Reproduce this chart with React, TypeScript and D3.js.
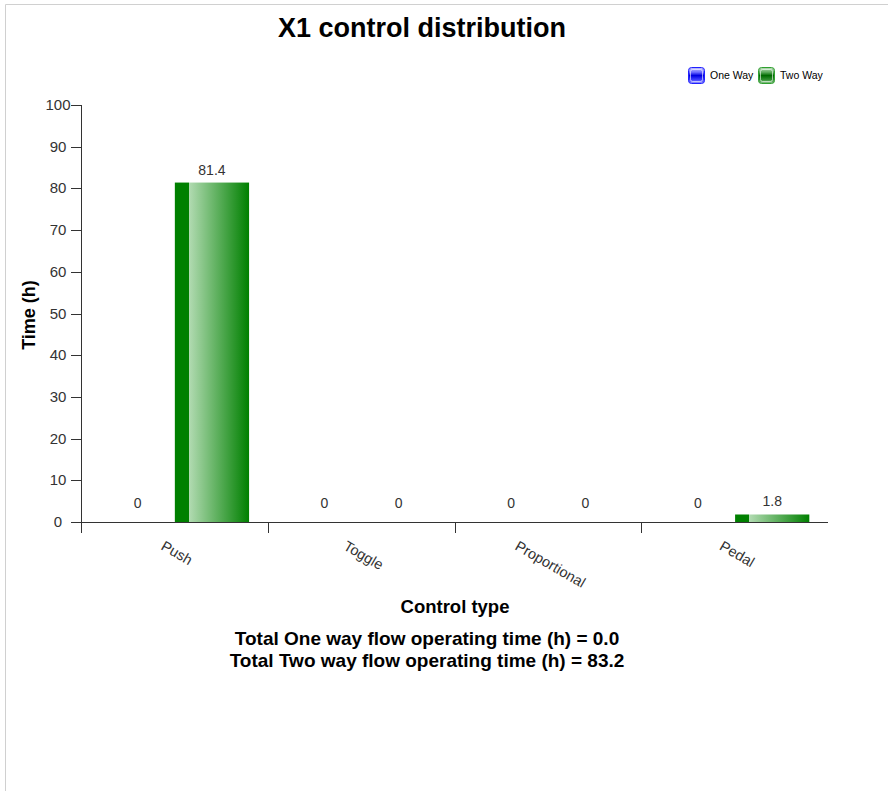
import React from "react";
import * as d3 from "d3";

const categories = ["Push", "Toggle", "Proportional", "Pedal"];
const seriesNames = ["One Way", "Two Way"];
const oneWay = [0, 0, 0, 0];
const twoWay = [81.4, 0, 0, 1.8];
const yTicks = [0, 10, 20, 30, 40, 50, 60, 70, 80, 90, 100];
const totalsText = [
  "Total One way flow operating time (h) = 0.0",
  "Total Two way flow operating time (h) = 83.2",
];

const W = 888;
const H = 791;
const left = 81;
const right = 828;
const top = 105;
const bottom = 522;
const font = "Arial, 'Liberation Sans', sans-serif";
const catFontSize = 14.5;

function measure(text: string, size: number): number {
  try {
    const c = document.createElement("canvas");
    const ctx = c.getContext("2d");
    if (ctx) {
      ctx.font = `${size}px "Liberation Sans", Arial, sans-serif`;
      return ctx.measureText(text).width;
    }
  } catch (e) {}
  return text.length * size * 0.55;
}

export default function App() {
  const x0 = d3.scaleBand<string>().domain(categories).range([left, right]).padding(0);
  const bw = x0.bandwidth();
  const x1 = d3
    .scaleBand<string>()
    .domain(seriesNames)
    .range([bw * 0.105, bw * 0.9])
    .padding(0);
  const y = d3.scaleLinear().domain([0, 100]).range([bottom, top]);
  const seriesVals = [oneWay, twoWay];
  const barIds = ["gradOne", "gradTwo"];
  const ang = 30;
  const cosA = Math.cos((ang * Math.PI) / 180);

  return (
    <svg width={W} height={H} style={{ position: "absolute", left: 0, top: 0 }}>
      <defs>
        <linearGradient id="gradTwo" x1="0" x2="1" y1="0" y2="0">
          <stop offset="0" stopColor="#008000" />
          <stop offset="0.19" stopColor="#008000" />
          <stop offset="0.19" stopColor="#b2dbb2" />
          <stop offset="1" stopColor="#008000" />
        </linearGradient>
        <linearGradient id="gradOne" x1="0" x2="1" y1="0" y2="0">
          <stop offset="0" stopColor="#0000ff" />
          <stop offset="0.19" stopColor="#0000ff" />
          <stop offset="0.19" stopColor="#b2b2ff" />
          <stop offset="1" stopColor="#0000ff" />
        </linearGradient>
        <linearGradient id="legBlue" x1="0" x2="0" y1="0" y2="1">
          <stop offset="0" stopColor="#c8c8ff" />
          <stop offset="0.3" stopColor="#6a6aff" />
          <stop offset="0.5" stopColor="#0000e0" />
          <stop offset="0.75" stopColor="#3b3bff" />
          <stop offset="1" stopColor="#9a9aff" />
        </linearGradient>
        <linearGradient id="legGreen" x1="0" x2="0" y1="0" y2="1">
          <stop offset="0" stopColor="#c2e2c2" />
          <stop offset="0.3" stopColor="#5aa95a" />
          <stop offset="0.5" stopColor="#006a00" />
          <stop offset="0.75" stopColor="#2f8f2f" />
          <stop offset="1" stopColor="#90c890" />
        </linearGradient>
      </defs>
      <rect x={0} y={0} width={W} height={H} fill="#fff" />
      <line x1={5.5} y1={4.5} x2={W} y2={4.5} stroke="#d0d0d0" />
      <line x1={5.5} y1={4.5} x2={5.5} y2={H} stroke="#d0d0d0" />

      <text x={422} y={37} textAnchor="middle" fontFamily={font} fontWeight="bold" fontSize={27} fill="#000">
        X1 control distribution
      </text>

      {/* legend */}
      <g fontFamily={font} fontSize={10.5} fill="#000">
        <rect x={688.5} y={67.5} width={16} height={16} rx={3} fill="url(#legBlue)" stroke="#2020ff" />
        <rect x={690.5} y={69.5} width={12} height={12} rx={2} fill="none" stroke="#ffffff" strokeOpacity={0.6} />
        <text x={710} y={79}>One Way</text>
        <rect x={758.5} y={67.5} width={16} height={16} rx={3} fill="url(#legGreen)" stroke="#30a030" />
        <rect x={760.5} y={69.5} width={12} height={12} rx={2} fill="none" stroke="#ffffff" strokeOpacity={0.6} />
        <text x={780} y={79}>Two Way</text>
      </g>

      {/* bars */}
      {categories.map((c, i) =>
        seriesNames.map((s, si) => {
          const v = seriesVals[si][i];
          const bx = (x0(c) as number) + (x1(s) as number);
          const bwid = x1.bandwidth();
          return (
            <g key={c + s}>
              {v > 0 && (
                <rect x={bx} y={y(v)} width={bwid} height={bottom - y(v)} fill={`url(#${barIds[si]})`} />
              )}
              <text
                x={bx + bwid / 2}
                y={v > 0 ? y(v) - 8 : y(v) - 14}
                textAnchor="middle"
                fontFamily={font}
                fontSize={14}
                fill="#333"
              >
                {v === 0 ? "0" : d3.format(".1f")(v)}
              </text>
            </g>
          );
        })
      )}

      {/* y axis */}
      <g fontFamily={font} fontSize={15} fill="#333">
        <line x1={left + 0.5} y1={top} x2={left + 0.5} y2={bottom + 11} stroke="#333" />
        {yTicks.map((t) => (
          <g key={t}>
            <line x1={left - 10} x2={left} y1={Math.round(y(t)) + 0.5} y2={Math.round(y(t)) + 0.5} stroke="#333" />
            <text x={58} y={y(t) + 5} textAnchor="middle">
              {t}
            </text>
          </g>
        ))}
      </g>

      {/* x axis */}
      <g fontFamily={font} fontSize={catFontSize} fill="#333">
        <line x1={left} x2={right} y1={bottom + 0.5} y2={bottom + 0.5} stroke="#333" />
        {categories.map((c) => {
          const sx = Math.round(x0(c) as number) + 0.5;
          const cx = (x0(c) as number) + bw / 2;
          const L = measure(c, catFontSize);
          const tx = cx - (L / 2) * cosA;
          const ty = 549;
          return (
            <g key={c}>
              <line x1={sx} x2={sx} y1={bottom} y2={bottom + 11} stroke="#333" />
              <text x={tx} y={ty} transform={`rotate(${ang}, ${tx}, ${ty})`} textAnchor="start">
                {c}
              </text>
            </g>
          );
        })}
      </g>

      <text
        x={0}
        y={0}
        transform={`translate(35, 315) rotate(-90)`}
        textAnchor="middle"
        fontFamily={font}
        fontWeight="bold"
        fontSize={18}
        fill="#000"
      >
        Time (h)
      </text>
      <text x={455} y={613} textAnchor="middle" fontFamily={font} fontWeight="bold" fontSize={18.5} fill="#000">
        Control type
      </text>
      {totalsText.map((t, i) => (
        <text
          key={t}
          x={427}
          y={645 + i * 22}
          textAnchor="middle"
          fontFamily={font}
          fontWeight="bold"
          fontSize={19}
          fill="#000"
        >
          {t}
        </text>
      ))}
    </svg>
  );
}
